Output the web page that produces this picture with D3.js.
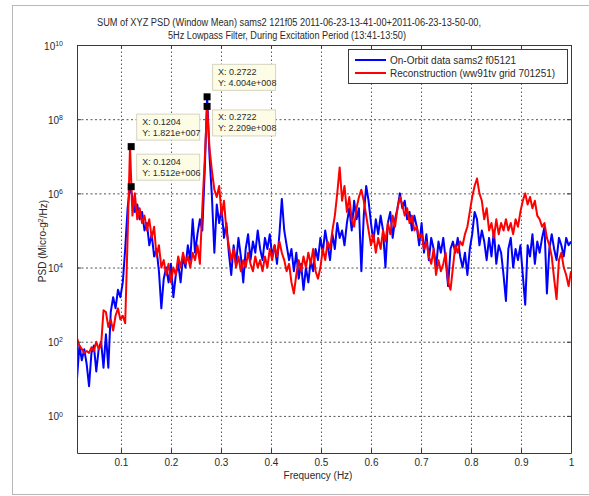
<!DOCTYPE html>
<html>
<head>
<meta charset="utf-8">
<script src="https://cdn.jsdelivr.net/npm/d3@7"></script>
<style>
  html, body { margin: 0; padding: 0; background: #fff; }
  svg { display: block; font-family: "Liberation Sans", Arial, sans-serif; }
</style>
</head>
<body>
<svg id="chart" width="589" height="496"></svg>
<script>
// ---------------- DATA ----------------
const titleLines = [
  "SUM of XYZ PSD (Window Mean) sams2 121f05 2011-06-23-13-41-00+2011-06-23-13-50-00,",
  "5Hz Lowpass Filter, During Excitation Period (13:41-13:50)"
];
const seriesNames = ["On-Orbit data sams2 f05121", "Reconstruction (ww91tv grid 701251)"];
const xTickValues = [0.1, 0.2, 0.3, 0.4, 0.5, 0.6, 0.7, 0.8, 0.9, 1];
const yTickExponents = [0, 2, 4, 6, 8, 10];
// frequency sampling: every 2nd PSD bin (bin width 1/415 Hz) starting at bin 5
const FREQ_FIRST_BIN = 5, FREQ_BIN_STEP = 2, FREQ_BINS_PER_HZ = 415;

// log10 of PSD (micro-g^2/Hz), one value per sampled frequency
const onOrbitLog10 = [
  1.0,1.9,1.5,1.8,1.4,0.8,1.7,1.9,1.2,1.8,
  2.0,1.3,2.2,1.3,2.8,3.2,2.9,3.4,3.2,3.6,
  4.5,5.6,6.1796,5.9,5.5,5.7,5.3,5.5,5.0,5.2,
  4.6,4.9,4.3,4.5,3.9,2.9,3.7,4.0,3.6,4.1,
  3.2,3.8,4.1,3.6,4.3,4.0,4.6,4.2,5.3,4.4,
  4.9,5.3,5.0,6.6,8.6025,7.0,5.9,4.4,5.7,5.2,
  5.6,4.8,5.2,4.4,3.8,4.6,4.1,4.8,4.3,3.6,
  4.5,4.9,4.2,4.7,4.4,5.0,4.5,4.2,4.8,4.5,
  4.9,4.3,4.6,4.1,4.9,5.85,5.0,4.6,4.2,4.5,
  3.9,4.4,3.7,4.1,3.4,4.0,3.6,4.2,3.9,4.5,
  4.2,4.8,4.4,5.0,4.6,4.2,4.9,4.5,5.2,4.8,
  5.0,4.6,5.2,5.6,5.0,5.8,5.3,5.6,3.9,5.4,
  6.2,5.8,5.2,4.7,5.3,4.9,5.4,5.0,4.0,5.2,
  5.5,4.8,5.3,5.6,6.0,5.6,5.8,5.3,5.5,5.0,
  5.4,5.1,4.6,5.2,4.4,4.9,4.2,4.8,4.5,4.0,
  4.7,4.4,4.8,4.2,3.5,4.5,4.7,4.4,4.8,4.3,
  4.0,4.4,3.8,4.5,4.9,5.5,5.3,4.6,5.0,4.7,
  4.2,4.8,4.3,5.0,4.1,4.6,4.4,3.8,3.1,4.5,
  4.8,4.0,4.5,4.2,4.6,3.8,3.0,4.6,4.3,4.9,
  4.1,4.7,4.4,4.8,5.1,3.3,4.5,4.9,4.5,4.2,
  4.8,4.6,4.3,4.8,4.6,4.7
];
const reconLog10 = [
  2.1,1.9,1.8,1.7,1.75,1.7,1.85,1.75,2.0,1.8,
  1.9,2.85,2.8,2.4,2.6,2.3,2.7,2.9,2.6,2.7,
  2.5,4.8,7.2603,5.4,6.0,5.3,5.6,5.2,5.4,5.0,
  5.3,4.8,5.1,4.3,4.6,4.0,4.2,3.8,4.1,3.6,
  4.0,3.8,4.3,4.0,4.4,4.1,4.3,4.0,4.4,4.2,
  4.6,4.1,5.6,6.9,8.3442,7.2,6.6,6.1,5.9,6.2,
  5.4,5.8,5.0,4.6,4.2,4.5,4.0,4.3,3.9,4.2,
  4.0,4.4,4.1,3.9,4.3,4.0,4.2,3.9,4.3,4.0,
  4.5,4.2,4.6,4.3,4.7,4.4,4.2,3.9,4.1,3.6,
  3.3,3.8,4.2,3.9,4.3,4.0,4.4,4.1,4.5,3.9,
  3.7,4.0,4.5,4.2,4.7,4.5,5.0,5.4,6.0,6.7,
  5.8,6.2,5.5,5.9,5.3,5.1,5.6,5.9,6.1,5.8,
  5.4,5.0,4.6,4.9,4.4,4.8,4.5,5.0,4.7,5.2,
  4.9,5.4,5.1,5.6,5.9,5.7,5.4,5.6,5.2,5.4,
  5.0,5.1,4.8,4.9,4.5,4.7,4.3,4.1,4.5,3.8,
  4.2,3.9,4.1,4.4,3.6,3.4,4.0,4.6,4.4,4.7,
  4.6,4.9,5.1,5.5,5.9,6.2,6.4,6.0,5.8,5.3,
  5.6,5.0,5.2,4.8,5.3,4.9,5.2,5.0,5.3,5.0,
  5.2,4.9,5.3,5.1,5.5,5.8,6.0,5.7,5.9,5.6,
  5.8,5.4,5.3,5.1,5.2,4.8,4.6,4.3,3.7,3.15,
  4.2,4.4,4.0,3.8,3.5,3.9
];
// data tips: x, y, label lines, placement
const tipX = [0.2722, 0.2722, 0.1204, 0.1204];
const tipY = [4.004e8, 2.209e8, 1.821e7, 1.512e6];
const tipText = [
  ["X: 0.2722", "Y: 4.004e+008"],
  ["X: 0.2722", "Y: 2.209e+008"],
  ["X: 0.1204", "Y: 1.821e+007"],
  ["X: 0.1204", "Y: 1.512e+006"]
];
const tipBelow = [false, true, false, false];

// ---------------- LAYOUT ----------------
const svg = d3.select("#chart");
const L = 77, R = 571, T = 45, B = 453;
const x = d3.scaleLinear().domain([0.01205, 1]).range([L, R]);
const y = d3.scaleLog().domain([1e-1, 1e10]).range([B, T]);
const axisColor = "#3a3a3a";
const textColor = "#2a2a2a";

// outer figure frame
svg.append("rect").attr("x", 12.5).attr("y", 5.5).attr("width", 580).attr("height", 489)
  .attr("fill", "#fff").attr("stroke", "#b8b8b8").attr("stroke-width", 1);
svg.append("rect").attr("x", L).attr("y", T).attr("width", R - L).attr("height", B - T)
  .attr("fill", "#fff");

// grid
const gx = svg.append("g").attr("transform", `translate(0,${B})`)
  .call(d3.axisBottom(x).tickValues(xTickValues.filter(v => v < 1)).tickSize(-(B - T)).tickFormat(""));
gx.select(".domain").remove();
gx.selectAll("line").attr("stroke", "#555").attr("stroke-dasharray", "1.5,2.5").attr("stroke-width", 1);
const gy = svg.append("g").attr("transform", `translate(${L},0)`)
  .call(d3.axisLeft(y).tickValues(yTickExponents.filter(e => e < 10).map(e => Math.pow(10, e)))
    .tickSize(-(R - L)).tickFormat(""));
gy.select(".domain").remove();
gy.selectAll("line").attr("stroke", "#555").attr("stroke-dasharray", "2,2.5").attr("stroke-width", 1);

// data
const freqs = onOrbitLog10.map((_, i) => (FREQ_FIRST_BIN + FREQ_BIN_STEP * i) / FREQ_BINS_PER_HZ);
const clip = svg.append("clipPath").attr("id", "clip").append("rect")
  .attr("x", L).attr("y", T).attr("width", R - L).attr("height", B - T);
const line = d3.line().x(d => x(d[0])).y(d => y(d[1]));
const blueData = freqs.map((f, i) => [f, Math.pow(10, onOrbitLog10[i])]);
const redData = freqs.map((f, i) => [f, Math.pow(10, reconLog10[i])]);
const plot = svg.append("g").attr("clip-path", "url(#clip)");
plot.append("path").datum(blueData).attr("d", line).attr("fill", "none")
  .attr("stroke", "#0000ff").attr("stroke-width", 2).attr("stroke-linejoin", "round");
plot.append("path").datum(redData).attr("d", line).attr("fill", "none")
  .attr("stroke", "#ff0000").attr("stroke-width", 2).attr("stroke-linejoin", "round");

// axes
const xa = svg.append("g").attr("transform", `translate(0,${B})`)
  .call(d3.axisBottom(x).tickValues(xTickValues).tickSize(-4).tickSizeOuter(0).tickPadding(6)
    .tickFormat(d => d3.format("")(d)));
const xt = svg.append("g").attr("transform", `translate(0,${T})`)
  .call(d3.axisTop(x).tickValues(xTickValues).tickSize(-4).tickSizeOuter(0).tickFormat(""));
const ya = svg.append("g").attr("transform", `translate(${L},0)`)
  .call(d3.axisLeft(y).tickValues(yTickExponents.map(e => Math.pow(10, e))).tickSize(-4)
    .tickSizeOuter(0).tickPadding(14).tickFormat(""));
const yr = svg.append("g").attr("transform", `translate(${R},0)`)
  .call(d3.axisRight(y).tickValues(yTickExponents.map(e => Math.pow(10, e))).tickSize(-4)
    .tickSizeOuter(0).tickFormat(""));
[xa, xt, ya, yr].forEach(g => {
  g.selectAll(".domain").attr("stroke", axisColor);
  g.selectAll("line").attr("stroke", axisColor);
  g.selectAll("text").attr("fill", textColor).style("font-size", "10px")
    .style("font-family", '"Liberation Sans", Arial, sans-serif');
});
ya.selectAll(".tick text").each(function (d) {
  const t = d3.select(this);
  t.text(null).attr("dy", "0.4em");
  t.append("tspan").text("10");
  t.append("tspan").attr("dy", "-0.55em").style("font-size", "7px")
    .text(String(Math.round(Math.log10(d))));
});

// axis labels
svg.append("text").attr("x", 318).attr("y", 479).attr("text-anchor", "middle")
  .attr("fill", textColor).style("font-size", "10px").text("Frequency (Hz)");
const yl = svg.append("text").attr("transform", "translate(46,241) rotate(-90)")
  .attr("text-anchor", "middle").attr("fill", textColor).style("font-size", "10px");
yl.append("tspan").text("PSD (Micro-g");
yl.append("tspan").attr("dy", "-0.45em").style("font-size", "7px").text("2");
yl.append("tspan").attr("dy", "0.45em").text("/Hz)");

// title
svg.append("text").attr("x", 289).attr("y", 26).attr("text-anchor", "middle")
  .attr("fill", textColor).style("font-size", "10px")
  .attr("textLength", 384).attr("lengthAdjust", "spacingAndGlyphs").text(titleLines[0]);
svg.append("text").attr("x", 287).attr("y", 39).attr("text-anchor", "middle")
  .attr("fill", textColor).style("font-size", "10px")
  .attr("textLength", 238).attr("lengthAdjust", "spacingAndGlyphs").text(titleLines[1]);

// legend
const lg = svg.append("g");
lg.append("rect").attr("x", 348.5).attr("y", 49.5).attr("width", 219).attr("height", 34)
  .attr("fill", "#fff").attr("stroke", axisColor);
const legColors = ["#0000ff", "#ff0000"];
seriesNames.forEach((name, i) => {
  const yy = 60 + i * 13;
  lg.append("line").attr("x1", 355).attr("x2", 386).attr("y1", yy).attr("y2", yy)
    .attr("stroke", legColors[i]).attr("stroke-width", 2);
  lg.append("text").attr("x", 390).attr("y", yy + 4).attr("fill", textColor)
    .style("font-size", "10px").text(name);
});

// data tips
tipX.forEach((tx, i) => {
  const mx = x(tx), my = y(tipY[i]);
  const bx = mx + 5, by = tipBelow[i] ? my + 3 : my - 33;
  const g = svg.append("g");
  g.append("rect").attr("x", bx + 0.5).attr("y", by + 0.5).attr("width", 63).attr("height", 26)
    .attr("fill", "#fdfce6").attr("stroke", "#d6d4c0");
  tipText[i].forEach((s, j) => {
    g.append("text").attr("x", bx + 6).attr("y", by + 11 + j * 11).attr("fill", textColor)
      .style("font-size", "9px").text(s);
  });
});
tipX.forEach((tx, i) => {
  svg.append("rect").attr("x", x(tx) - 3.5).attr("y", y(tipY[i]) - 3.5)
    .attr("width", 7).attr("height", 7).attr("fill", "#000");
});
</script>
</body>
</html>
